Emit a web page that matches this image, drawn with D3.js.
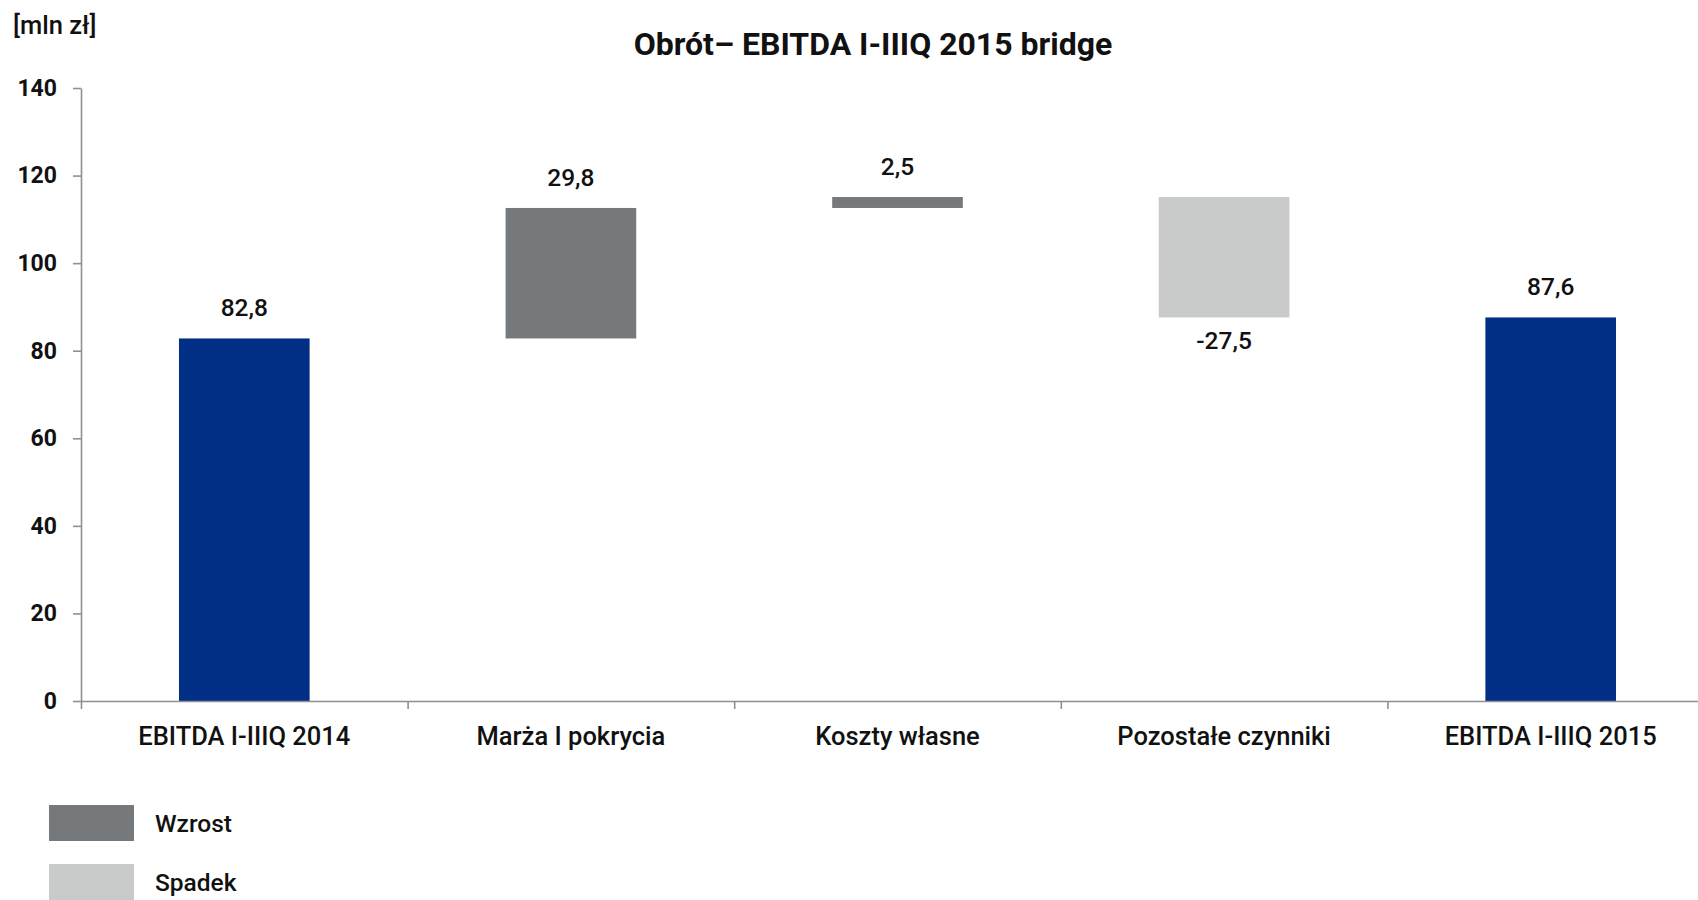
<!DOCTYPE html>
<html>
<head>
<meta charset="utf-8">
<script src="https://cdn.jsdelivr.net/npm/d3@7"></script>
<style>
  html, body { margin: 0; padding: 0; background: #fff; }
  svg text { font-family: Roboto, Lato, sans-serif; font-weight: 500; fill: #111; }
</style>
</head>
<body>
<svg id="chart" width="1698" height="900"></svg>
<script>
// Bridge steps (mln zł)
const categories = ["EBITDA I-IIIQ 2014", "Marża I pokrycia", "Koszty własne", "Pozostałe czynniki", "EBITDA I-IIIQ 2015"];
const values = [82.8, 29.8, 2.5, -27.5, 87.6];
const kinds = ["total", "delta", "delta", "delta", "total"];
const valueLabels = ["82,8", "29,8", "2,5", "-27,5", "87,6"];
const yTicks = [0, 20, 40, 60, 80, 100, 120, 140];
const legendItems = ["Wzrost", "Spadek"];

const colors = { total: "#022f86", up: "#76797c", down: "#c9caca", axis: "#8f8f8f" };

// Build floating segments: totals start at zero, deltas stack on the running sum
let running = 0;
const bars = categories.map((c, i) => {
  let y0, y1, kind;
  if (kinds[i] === "total") {
    y0 = 0; y1 = values[i]; running = values[i]; kind = "total";
  } else {
    y0 = running; y1 = running + values[i]; running = y1;
    kind = values[i] >= 0 ? "up" : "down";
  }
  return { cat: c, value: values[i], label: valueLabels[i], y0, y1, kind };
});

const svg = d3.select("#chart");
const plotLeft = 81, plotRight = 1714, plotTop = 88, plotBottom = 701;

const y = d3.scaleLinear().domain([0, 140]).range([plotBottom, plotTop]);
const x = d3.scaleBand().domain(categories).range([plotLeft, plotRight])
  .paddingInner(0.6).paddingOuter(0.3);
const xEdges = d3.scaleLinear().domain([0, categories.length]).range([plotLeft, plotRight]);

// Bars
svg.append("g").selectAll("rect").data(bars).join("rect")
  .attr("x", d => x(d.cat))
  .attr("width", x.bandwidth())
  .attr("y", d => y(Math.max(d.y0, d.y1)))
  .attr("height", d => Math.abs(y(d.y0) - y(d.y1)))
  .attr("fill", d => colors[d.kind]);

// Value labels: above the top for increases/totals, below for decreases
svg.append("g").selectAll("text").data(bars).join("text")
  .attr("x", d => x(d.cat) + x.bandwidth() / 2)
  .attr("y", d => d.value >= 0 ? y(Math.max(d.y0, d.y1)) - 22 : y(Math.min(d.y0, d.y1)) + 32)
  .attr("text-anchor", "middle")
  .style("font-size", "24.5px")
  .text(d => d.label);

// Y axis
const yAxis = svg.append("g")
  .attr("transform", `translate(${plotLeft},0)`)
  .call(d3.axisLeft(y).tickValues(yTicks).tickSize(8).tickSizeOuter(0).tickPadding(16));
yAxis.selectAll("text").style("font-size", "23px").attr("fill", "#111").style("font-weight", "bold");

// X axis: boundary ticks
svg.append("g")
  .attr("transform", `translate(0,${plotBottom})`)
  .call(d3.axisBottom(xEdges).tickValues(d3.range(categories.length + 1)).tickFormat("").tickSize(8).tickSizeOuter(0));

// X axis category labels
svg.append("g")
  .attr("transform", `translate(0,${plotBottom})`)
  .call(d3.axisBottom(x).tickSize(0).tickPadding(26))
  .call(g => g.select(".domain").remove())
  .selectAll("text").style("font-size", "25.5px").attr("fill", "#111");

svg.selectAll(".domain, .tick line").attr("stroke", colors.axis).attr("stroke-width", 1.6);

// Unit and title
svg.append("text").attr("x", 13).attr("y", 34).style("font-size", "25.5px").text("[mln zł]");
svg.append("text").attr("x", 873).attr("y", 55).attr("text-anchor", "middle")
  .style("font-size", "32px").style("font-weight", "bold")
  .text("Obrót– EBITDA I-IIIQ 2015 bridge");

// Legend
const legend = svg.append("g").selectAll("g").data(legendItems).join("g")
  .attr("transform", (d, i) => `translate(49,${805 + i * 59})`);
legend.append("rect").attr("width", 85).attr("height", 36)
  .attr("fill", (d, i) => i === 0 ? colors.up : colors.down);
legend.append("text").attr("x", 106).attr("y", 27).style("font-size", "24.5px").text(d => d);
</script>
</body>
</html>
